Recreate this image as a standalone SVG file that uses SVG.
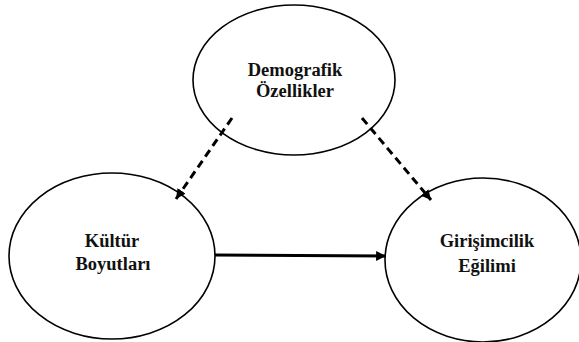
<svg xmlns="http://www.w3.org/2000/svg" width="579" height="342" viewBox="0 0 579 342">
<style>
.node ellipse{fill:#fff;stroke:#000;stroke-width:1.6}
.lbl{font-family:"Liberation Serif","Times New Roman",serif;font-weight:bold;font-size:18.5px;fill:#111;text-anchor:middle}
.dash{stroke:#000;stroke-width:3;stroke-dasharray:8,5;fill:none}
.solid{stroke:#000;stroke-width:3;fill:none}
</style>
<defs>
<marker id="ah" viewBox="0 0 10 10" refX="10" refY="5" markerWidth="3.3" markerHeight="3.3" orient="auto" markerUnits="strokeWidth">
<path d="M0,0 L10,5 L0,10 Z" fill="#000"/>
</marker>
</defs>
<rect width="579" height="342" fill="#fff"/>
<g id="demografik" class="node">
<ellipse cx="294" cy="80" rx="101" ry="75"/>
<text class="lbl" x="295" y="76">Demografik</text>
<text class="lbl" x="295" y="97">Özellikler</text>
</g>
<g id="kultur" class="node">
<ellipse cx="112" cy="256" rx="103" ry="83"/>
<text class="lbl" x="112" y="247">Kültür</text>
<text class="lbl" x="113" y="270">Boyutları</text>
</g>
<g id="girisimcilik" class="node">
<ellipse cx="483" cy="260" rx="98" ry="82"/>
<text class="lbl" x="487" y="247">Girişimcilik</text>
<text class="lbl" x="487" y="272">Eğilimi</text>
</g>
<g id="connectors">
<line class="dash" x1="232" y1="118" x2="176" y2="199" marker-end="url(#ah)"/>
<line class="dash" x1="362" y1="118" x2="431" y2="200" marker-end="url(#ah)"/>
<line class="solid" x1="215" y1="255" x2="386" y2="256" marker-end="url(#ah)"/>
</g>
</svg>
